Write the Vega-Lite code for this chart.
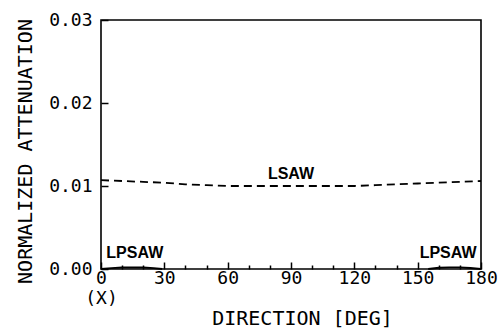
{
  "$schema": "https://vega.github.io/schema/vega-lite/v6.json",
  "width": 380,
  "height": 249,
  "autosize": "none",
  "padding": {"left": 101, "top": 20, "right": 20, "bottom": 59},
  "background": "white",
  "config": {
    "view": {"stroke": "black", "strokeWidth": 1.6},
    "axis": {"grid": false, "domain": false, "labelFont": "DejaVu Sans Mono", "titleFont": "DejaVu Sans Mono", "labelColor": "black", "titleColor": "black", "tickColor": "black", "labelFontWeight": "normal", "titleFontWeight": "normal"}
  },
  "datasets": {
    "lines": [
      {"series": "LSAW", "seg": "A", "deg": 0, "att": 0.0107},
      {"series": "LSAW", "seg": "A", "deg": 10, "att": 0.0106},
      {"series": "LSAW", "seg": "A", "deg": 20, "att": 0.0105},
      {"series": "LSAW", "seg": "A", "deg": 30, "att": 0.0104},
      {"series": "LSAW", "seg": "A", "deg": 40, "att": 0.0102},
      {"series": "LSAW", "seg": "A", "deg": 50, "att": 0.0101},
      {"series": "LSAW", "seg": "A", "deg": 60, "att": 0.01},
      {"series": "LSAW", "seg": "A", "deg": 70, "att": 0.01},
      {"series": "LSAW", "seg": "A", "deg": 80, "att": 0.01},
      {"series": "LSAW", "seg": "A", "deg": 90, "att": 0.01},
      {"series": "LSAW", "seg": "A", "deg": 100, "att": 0.01},
      {"series": "LSAW", "seg": "A", "deg": 110, "att": 0.01},
      {"series": "LSAW", "seg": "A", "deg": 120, "att": 0.01},
      {"series": "LSAW", "seg": "A", "deg": 130, "att": 0.0101},
      {"series": "LSAW", "seg": "A", "deg": 140, "att": 0.0102},
      {"series": "LSAW", "seg": "A", "deg": 150, "att": 0.0103},
      {"series": "LSAW", "seg": "A", "deg": 160, "att": 0.0104},
      {"series": "LSAW", "seg": "A", "deg": 170, "att": 0.0105},
      {"series": "LSAW", "seg": "A", "deg": 180, "att": 0.0106},
      {"series": "LPSAW", "seg": "L", "deg": 0, "att": 0},
      {"series": "LPSAW", "seg": "L", "deg": 5, "att": 0.0001},
      {"series": "LPSAW", "seg": "L", "deg": 10, "att": 0.00018},
      {"series": "LPSAW", "seg": "L", "deg": 15, "att": 0.0002},
      {"series": "LPSAW", "seg": "L", "deg": 20, "att": 0.00018},
      {"series": "LPSAW", "seg": "L", "deg": 25, "att": 0.0001},
      {"series": "LPSAW", "seg": "L", "deg": 29, "att": 0},
      {"series": "LPSAW", "seg": "R", "deg": 155, "att": 0},
      {"series": "LPSAW", "seg": "R", "deg": 160, "att": 0.00015},
      {"series": "LPSAW", "seg": "R", "deg": 165, "att": 0.0002},
      {"series": "LPSAW", "seg": "R", "deg": 170, "att": 0.0002},
      {"series": "LPSAW", "seg": "R", "deg": 175, "att": 0.00012},
      {"series": "LPSAW", "seg": "R", "deg": 180, "att": 0}
    ],
    "labels": [
      {"deg": 90, "att": 0.01145, "text": "LSAW"},
      {"deg": 16, "att": 0.00187, "text": "LPSAW"},
      {"deg": 164.4, "att": 0.00187, "text": "LPSAW"}
    ]
  },
  "encoding": {
    "x": {"field": "deg", "type": "quantitative", "scale": {"domain": [0, 180], "nice": false},
      "axis": {"orient": "bottom", "values": [0, 10, 20, 30, 40, 50, 60, 70, 80, 90, 100, 110, 120, 130, 140, 150, 160, 170, 180],
        "tickSize": {"condition": {"test": "datum.value % 30 == 0", "value": -7}, "value": -4},
        "tickWidth": 1.5,
        "labelPadding": 7, "labelBaseline": "top", "labelFontSize": 18, "labelLineHeight": 20,
        "labelExpr": "datum.value == 0 ? ['0', '(X)'] : (datum.value % 30 == 0 ? datum.label : '')", "labelFlush": false, "labelOverlap": false,
        "title": "DIRECTION [DEG]", "titleFontSize": 20, "titleX": 201, "titleY": 49, "titleBaseline": "middle", "titleAnchor": null, "titleAlign": "center"}},
    "y": {"field": "att", "type": "quantitative", "scale": {"domain": [0, 0.03], "nice": false},
      "axis": {"orient": "left", "values": [0, 0.01, 0.02, 0.03], "format": ".2f",
        "tickSize": -7, "tickWidth": 1.5,
        "labelPadding": 16, "labelFontSize": 18, "labelBaseline": "middle",
        "title": "NORMALIZED ATTENUATION", "titleFontSize": 20, "titleX": -76, "titleY": 131, "titleAngle": -90, "titleAlign": "center", "titleBaseline": "middle", "titleAnchor": null}}
  },
  "layer": [
    {
      "data": {"name": "lines"},
      "transform": [{"filter": "datum.series == 'LSAW'"}],
      "mark": {"type": "line", "color": "black", "strokeWidth": 1.8, "strokeDash": [8, 5]}
    },
    {
      "data": {"name": "lines"},
      "transform": [{"filter": "datum.series == 'LPSAW'"}],
      "mark": {"type": "line", "color": "black", "strokeWidth": 1.8},
      "encoding": {"detail": {"field": "seg"}}
    },
    {
      "data": {"name": "labels"},
      "mark": {"type": "text", "font": "Liberation Sans", "fontWeight": "bold", "fontSize": 16, "color": "black"},
      "encoding": {"text": {"field": "text"}}
    }
  ]
}
